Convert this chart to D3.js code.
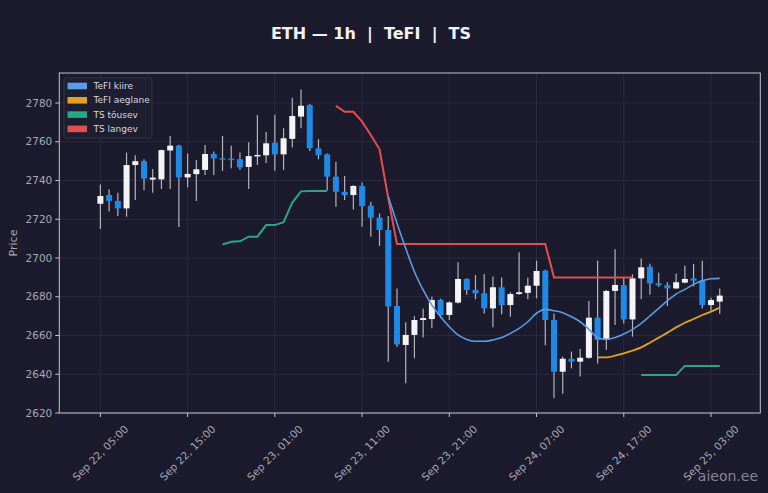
<!DOCTYPE html>
<html><head><meta charset="utf-8">
<script src="https://cdn.jsdelivr.net/npm/d3@7"></script>
<style>html,body{margin:0;padding:0;background:#1b1b2d;}svg{display:block;}</style>
</head><body><svg id="c" width="768" height="493"></svg>
<script>
const startTime = Date.UTC(2025, 8, 22, 5, 0);
const opens  = [2728,2732.5,2729.5,2725.6,2748,2750,2740.5,2740.6,2755.5,2758,2741.6,2743.3,2745.5,2753.7,2751.5,2751.3,2751,2747,2752.6,2753,2759.5,2753.5,2761.5,2773,2779,2756.6,2753.5,2742,2734.2,2732.5,2737.2,2727,2720.8,2714.5,2675.2,2655.1,2660.3,2668,2668.5,2678.5,2670.6,2677,2689.2,2683.5,2681.8,2674,2684.9,2675.7,2681.4,2682,2685.7,2693.5,2668,2641.3,2648,2646.5,2648.5,2669.2,2657.7,2683,2686,2668.3,2689.5,2695.5,2687,2686,2684.3,2687.3,2689.5,2688.5,2675.7,2677.5];
const highs  = [2738,2735.5,2733.7,2754.4,2753,2751,2746,2756,2763,2758.5,2754,2750.6,2758.3,2755,2763,2758,2754.4,2759.7,2773.8,2765,2774,2767,2782.7,2787,2779.5,2761.4,2754,2749.7,2742.3,2737.5,2739,2729,2723,2721.7,2684.3,2666.8,2670,2674,2680,2679,2677.5,2697.8,2689.5,2691.2,2691.7,2690.4,2690,2682.3,2703,2690,2698.6,2694,2671.4,2649,2651.7,2653,2677.8,2698.6,2683.5,2704.5,2689.8,2691.6,2699.8,2697,2692.4,2687.5,2692,2696,2697,2698.6,2679.5,2684.3];
const lows   = [2715,2724,2721.7,2721.3,2730,2735,2733.7,2735.6,2735.6,2716,2736.5,2729.4,2742.8,2742.8,2745,2746.3,2745.5,2735.6,2748,2749,2745,2745.5,2757,2767,2755.2,2751,2735,2726.5,2729.9,2725,2716.2,2711,2706.2,2646.5,2654.2,2635.3,2648.2,2659,2663.7,2669,2668,2676.5,2681,2678.7,2671.4,2664.2,2671,2669.7,2681,2678.7,2679.2,2655,2627.6,2630,2643,2638.8,2648,2645.6,2652.5,2665.4,2666.2,2659.4,2678.7,2681,2685,2675.2,2684,2687,2685.4,2674,2672.8,2671.1];
const closes = [2732,2729.5,2725.6,2748,2750,2741,2741.5,2755.7,2758,2741.6,2743.4,2745.8,2753.7,2751.4,2751,2751,2746.8,2752.6,2753.2,2759.2,2753.5,2761.8,2773.3,2778.6,2756.6,2753.2,2742,2734.2,2732.5,2737.2,2726.8,2720.8,2714.5,2675,2655.4,2660.3,2668,2669,2678.3,2670.6,2677.1,2689.2,2683.5,2681.8,2674,2684.9,2675.7,2681.4,2682.3,2685.7,2693.3,2668,2641.3,2648,2646.5,2648.5,2669.2,2657.7,2683,2686.1,2668.3,2689.5,2695.2,2686.9,2685.9,2684.3,2687.5,2689.2,2688.3,2675.7,2678.3,2680.6];
const _ = null;
const tefiFast = [_,_,_,_,_,_,_,_,_,_,_,_,_,_,_,_,_,_,_,_,_,_,_,_,_,_,_,_,_,_,_,_,_,
  2731.6,2717.9,2705,2692.9,2683.5,2675.7,2669.7,2664.5,2660.3,2658,2657,2657,2657.7,2659,2661.1,2663.7,2667.1,2671.5,2673.5,2672.8,2671.8,2669.7,2667.1,2663.2,2659,2658,2659,2660.8,2663.2,2666.3,2670.1,2674,2678,2681.4,2683.8,2686.4,2688.3,2689.3,2689.5];
const tefiSlow = [_,_,_,_,_,_,_,_,_,_,_,_,_,_,_,_,_,_,_,_,_,_,_,_,_,_,_,_,_,_,_,_,_,_,_,_,_,_,_,_,_,_,_,_,_,_,_,_,_,_,_,_,_,_,_,_,_,
  2648.7,2648.7,2649.6,2650.8,2652.2,2653.9,2656.3,2658.9,2661.5,2664.2,2666.6,2668.5,2670.6,2672.3,2674.4];
const tsUp = [_,_,_,_,_,_,_,_,_,_, _,_,_,_,
  2707,2708.4,2708.6,2711,2711,2717,2717,2718.5,2728.6,2734.4,2734.6,2734.6,2734.6,
  _,_,_,_,_,_,_,_,_,_, _,_,_,_,_,_,_,_,_,_, _,_,_,_,_,_,_,_,_,_, _,_,_,_,_,
  2639.6,2639.6,2639.6,2639.6,2639.6,2644.3,2644.3,2644.3,2644.3,2644.3];
const tsDown = [_,_,_,_,_,_,_,_,_,_,_,_,_,_,_,_,_,_,_,_,_,_,_,_,_,_,_,
  2778.5,2775.5,2775.5,2770.4,2763.5,2756.1,2731,2707.2,2707.2,2707.2,2707.2,2707.2,2707.2,2707.2,2707.2,2707.2,2707.2,2707.2,2707.2,2707.2,2707.2,2707.2,2707.2,2707.2,2707.2,
  2690,2690,2690,2690,2690,2690,2690,2690,2690,2690,_,_,_,_,_,_,_,_,_,_];
const yTicks = [2620,2640,2660,2680,2700,2720,2740,2760,2780];
const xTickHours = [0,10,20,30,40,50,60,70];
const legendNames = ["TeFI kiire","TeFI aeglane","TS tõusev","TS langev"];
const titleText = "ETH — 1h  |  TeFI  |  TS";

const H = 3600e3;
const svg = d3.select("#c");
const W = 768, HH = 493;
const m = {left: 59.3, top: 73, right: 760.3, bottom: 413};
svg.append("rect").attr("width", W).attr("height", HH).attr("fill", "#1b1b2d");

const x = d3.scaleUtc().domain([new Date(startTime - 4.71*H), new Date(startTime + 75.65*H)]).range([m.left, m.right]);
const y = d3.scaleLinear().domain([2620, 2795.5]).range([m.bottom, m.top]);
const t = i => new Date(startTime + i*H);

const font = "DejaVu Sans, sans-serif";
// grid
const g = svg.append("g");
g.selectAll(".gy").data(yTicks).join("line").attr("x1", m.left).attr("x2", m.right)
  .attr("y1", d => y(d)).attr("y2", d => y(d)).attr("stroke", "#2d2d45").attr("stroke-width", 0.8);
g.selectAll(".gx").data(xTickHours).join("line").attr("y1", m.top).attr("y2", m.bottom)
  .attr("x1", d => x(t(d))).attr("x2", d => x(t(d))).attr("stroke", "#2d2d45").attr("stroke-width", 0.8);

// candles
const idx = d3.range(opens.length);
const bw = 6;
const cg = svg.append("g");
cg.selectAll(".wick").data(idx).join("line")
  .attr("x1", i => x(t(i))).attr("x2", i => x(t(i)))
  .attr("y1", i => y(highs[i])).attr("y2", i => y(lows[i]))
  .attr("stroke", "#b4b4be").attr("stroke-width", 1.2);
cg.selectAll(".body").data(idx).join("rect")
  .attr("x", i => x(t(i)) - bw/2).attr("width", bw)
  .attr("y", i => y(Math.max(opens[i], closes[i])))
  .attr("height", i => Math.max(1.5, Math.abs(y(opens[i]) - y(closes[i]))))
  .attr("fill", i => closes[i] >= opens[i] ? "#f4f4f6" : "#1e8ae8");

// lines
const mk = (arr, curve) => d3.line().defined(d => d != null).x((d, i) => x(t(i))).y(d => y(d)).curve(curve)(arr);
const colors = ["#5c9be6", "#e3a21a", "#2aa586", "#e0504f"];
svg.append("path").attr("d", mk(tsUp, d3.curveLinear)).attr("fill", "none").attr("stroke", colors[2]).attr("stroke-width", 2);
svg.append("path").attr("d", mk(tsDown, d3.curveLinear)).attr("fill", "none").attr("stroke", colors[3]).attr("stroke-width", 2);
svg.append("path").attr("d", mk(tefiSlow, d3.curveMonotoneX)).attr("fill", "none").attr("stroke", colors[1]).attr("stroke-width", 1.8);
svg.append("path").attr("d", mk(tefiFast, d3.curveMonotoneX)).attr("fill", "none").attr("stroke", colors[0]).attr("stroke-width", 1.6);

// spines
svg.append("rect").attr("x", m.left).attr("y", m.top).attr("width", m.right - m.left).attr("height", m.bottom - m.top)
  .attr("fill", "none").attr("stroke", "#c4c4cc").attr("stroke-width", 1);

// y axis ticks
const ya = svg.append("g");
ya.selectAll("line").data(yTicks).join("line").attr("x1", m.left - 4).attr("x2", m.left)
  .attr("y1", d => y(d)).attr("y2", d => y(d)).attr("stroke", "#c4c4cc");
ya.selectAll("text").data(yTicks).join("text").attr("x", m.left - 7).attr("y", d => y(d))
  .attr("dy", "0.35em").attr("text-anchor", "end").attr("fill", "#a8a8b4")
  .attr("font-family", font).attr("font-size", 10.5).text(d => d);
// x axis ticks
const fmt = d3.utcFormat("%b %d, %H:%M");
const xa = svg.append("g");
xa.selectAll("line").data(xTickHours).join("line").attr("y1", m.bottom).attr("y2", m.bottom + 4)
  .attr("x1", d => x(t(d))).attr("x2", d => x(t(d))).attr("stroke", "#c4c4cc");
xa.selectAll("text").data(xTickHours).join("text")
  .attr("transform", d => `translate(${x(t(d))},${453}) rotate(-45)`)
  .attr("text-anchor", "middle").attr("dy", "0.35em").attr("fill", "#a8a8b4")
  .attr("font-family", font).attr("font-size", 10.5).text(d => fmt(t(d)));

// y label
svg.append("text").attr("transform", `translate(17,${(m.top + m.bottom)/2}) rotate(-90)`)
  .attr("text-anchor", "middle").attr("fill", "#a8a8b4").attr("font-family", font).attr("font-size", 11).text("Price");

// title
svg.append("text").attr("x", 371).attr("y", 39).attr("text-anchor", "middle").attr("fill", "#f2f2f6")
  .attr("font-family", font).attr("font-weight", "bold").attr("font-size", 16).attr("xml:space", "preserve")
  .style("white-space", "pre").text(titleText);

// legend
const lg = svg.append("g");
lg.append("rect").attr("x", 64).attr("y", 78).attr("width", 88).attr("height", 60).attr("rx", 2)
  .attr("fill", "#1e1e31").attr("stroke", "#3a3a50").attr("stroke-width", 0.8);
legendNames.forEach((n, i) => {
  const cy = 86 + i*14.3;
  lg.append("rect").attr("x", 67.5).attr("y", cy - 3.3).attr("width", 19.5).attr("height", 6.6).attr("fill", colors[i]);
  lg.append("text").attr("x", 93.5).attr("y", cy).attr("dy", "0.35em").attr("fill", "#d8d8e0")
    .attr("font-family", font).attr("font-size", 9).text(n);
});

// watermark
svg.append("text").attr("x", 758).attr("y", 481).attr("text-anchor", "end").attr("fill", "#9a9aa6").attr("fill-opacity", 0.85)
  .attr("font-family", font).attr("font-size", 14).text("aieon.ee");
</script></body></html>
